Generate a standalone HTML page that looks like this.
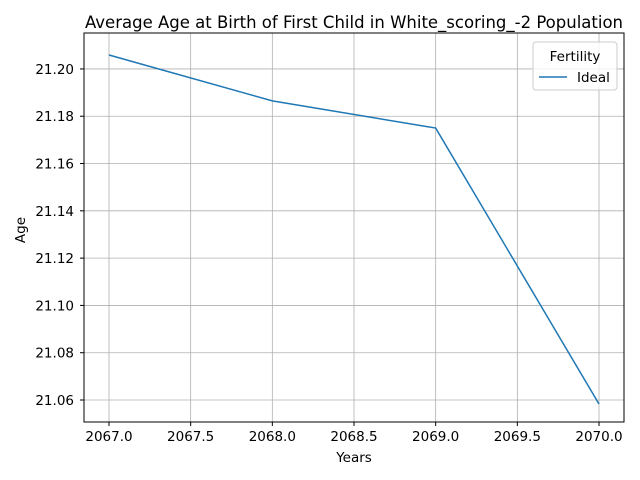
<!DOCTYPE html>
<html>
<head>
<meta charset="utf-8">
<style>
  html,body{margin:0;padding:0;background:#fff;}
  svg{display:block;font-family:"DejaVu Sans","Liberation Sans",sans-serif;}
</style>
</head>
<body>
<svg id="chart" width="640" height="480" viewBox="0 0 640 480">
  <rect x="0" y="0" width="640" height="480" fill="#fff"/>
  <g id="grid"></g>
  <g id="series"></g>
  <rect x="84" y="33" width="540" height="389" fill="none" stroke="#000" stroke-width="1"/>
  <g id="xticks"></g>
  <g id="yticks"></g>
  <text x="354" y="28" text-anchor="middle" font-size="16.5" fill="#000">Average Age at Birth of First Child in White_scoring_-2 Population</text>
  <text x="354" y="462" text-anchor="middle" font-size="13.5" fill="#000">Years</text>
  <text x="25" y="230" text-anchor="middle" font-size="13.5" fill="#000" transform="rotate(-90 25 230)">Age</text>
  <g>
    <rect x="533" y="42" width="84" height="48" rx="3" fill="#fff" fill-opacity="0.8" stroke="#ccc"/>
    <text x="575" y="61" text-anchor="middle" font-size="13.5" fill="#000">Fertility</text>
    <line x1="539" y1="77" x2="567" y2="77" stroke="#1f77b4" stroke-width="1.5"/>
    <text x="577" y="82" font-size="13.5" fill="#000">Ideal</text>
  </g>
</svg>
<script>
const years = [2067, 2068, 2069, 2070];
const ages = [21.2059, 21.1865, 21.175, 21.0583];
const xTickValues = [2067.0, 2067.5, 2068.0, 2068.5, 2069.0, 2069.5, 2070.0];
const yTickValues = [21.06, 21.08, 21.10, 21.12, 21.14, 21.16, 21.18, 21.20];

const L=84,R=624,T=33,B=422;
const xMin=2066.847,xMax=2070.153,yMin=21.0507,yMax=21.2152;
function xs(v){return L+(v-xMin)/(xMax-xMin)*(R-L);}
function ys(v){return B-(v-yMin)/(yMax-yMin)*(B-T);}
const NS="http://www.w3.org/2000/svg";
const grid=document.getElementById('grid');
const xg=document.getElementById('xticks');
const yg=document.getElementById('yticks');
const sg=document.getElementById('series');

xTickValues.forEach(v=>{
  const x=xs(v);
  const gl=document.createElementNS(NS,'line');
  gl.setAttribute('x1',x);gl.setAttribute('x2',x);gl.setAttribute('y1',T);gl.setAttribute('y2',B);
  gl.setAttribute('stroke','#b0b0b0');gl.setAttribute('stroke-width','0.8');
  
  
  grid.appendChild(gl);
  const tk=document.createElementNS(NS,'line');
  tk.setAttribute('x1',x);tk.setAttribute('x2',x);tk.setAttribute('y1',B);tk.setAttribute('y2',B+4);
  tk.setAttribute('stroke','#000');
  
  
  xg.appendChild(tk);
  const t=document.createElementNS(NS,'text');
  t.setAttribute('x',x);t.setAttribute('y',B+19);t.setAttribute('text-anchor','middle');t.setAttribute('font-size','13.5');
  t.textContent=v.toFixed(1);
  
  
  xg.appendChild(t);
});
yTickValues.forEach(v=>{
  const y=ys(v);
  const gl=document.createElementNS(NS,'line');
  gl.setAttribute('x1',L);gl.setAttribute('x2',R);gl.setAttribute('y1',y);gl.setAttribute('y2',y);
  gl.setAttribute('stroke','#b0b0b0');gl.setAttribute('stroke-width','0.8');
  
  
  grid.appendChild(gl);
  const tk=document.createElementNS(NS,'line');
  tk.setAttribute('x1',L-4);tk.setAttribute('x2',L);tk.setAttribute('y1',y);tk.setAttribute('y2',y);
  tk.setAttribute('stroke','#000');
  
  
  yg.appendChild(tk);
  const t=document.createElementNS(NS,'text');
  t.setAttribute('x',L-10);t.setAttribute('y',y+5);t.setAttribute('text-anchor','end');t.setAttribute('font-size','13.5');
  t.textContent=v.toFixed(2);
  
  
  yg.appendChild(t);
});
const pts=years.map((yr,i)=>xs(yr)+','+ys(ages[i])).join(' ');
const pl=document.createElementNS(NS,'polyline');
pl.setAttribute('points',pts);pl.setAttribute('fill','none');
pl.setAttribute('stroke','#1f77b4');pl.setAttribute('stroke-width','1.5');


sg.appendChild(pl);
</script>
</body>
</html>
